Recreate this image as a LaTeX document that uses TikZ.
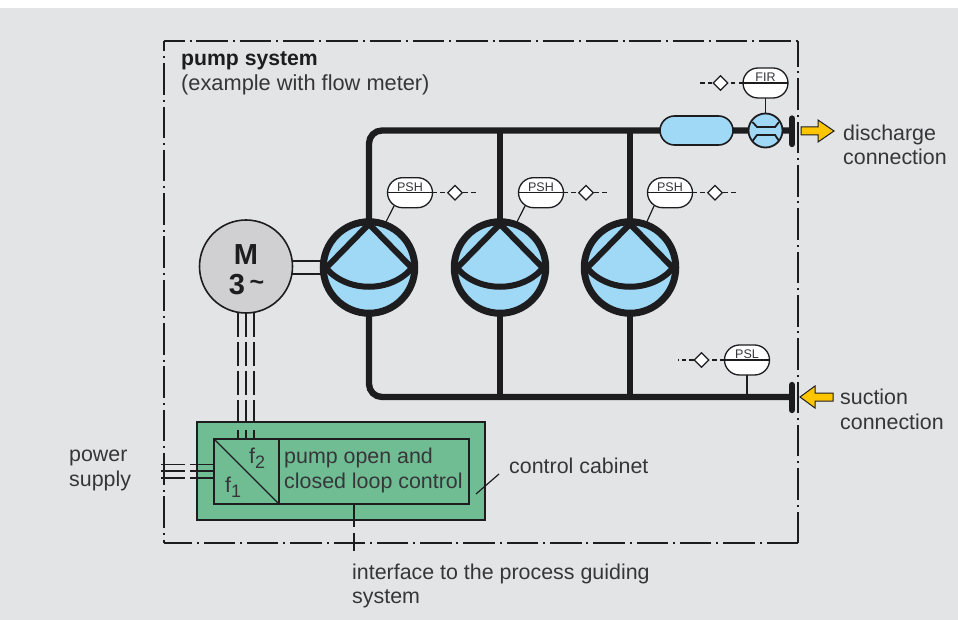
\documentclass[tikz,border=0pt]{standalone}
\usepackage{fontspec}
\setmainfont{Liberation Sans}
\usetikzlibrary{shapes.geometric,shapes.misc}
\definecolor{bggray}{HTML}{E3E4E6}
\definecolor{ink}{HTML}{1D1D20}
\definecolor{pumpblue}{HTML}{9FD9F6}
\definecolor{motorgray}{HTML}{D0D0D2}
\definecolor{cabgreen}{HTML}{70BD93}
\definecolor{arrowyellow}{HTML}{FFC600}
\definecolor{txt}{HTML}{36363A}
\tikzset{x=1pt,y=-1pt,
 pipe/.style={draw=ink,line width=6.3pt},
 pumpcircle/.style={circle,draw=ink,line width=7pt,fill=pumpblue,minimum size=91.5pt,inner sep=0pt,outer sep=0pt},
 pumpmark/.style={draw=ink,line width=6pt},
 thinline/.style={draw=ink,line width=1.2pt},
 sigdash/.style={draw=ink,line width=1.2pt,dash pattern=on 4.5pt off 3.2pt},
 sysborder/.style={draw=ink,line width=2pt,dash pattern=on 31.5pt off 5pt on 2pt off 4.8pt},
 instrument/.style={rounded rectangle,draw=ink,line width=1.3pt,fill=white,minimum width=45pt,minimum height=30pt,inner sep=0pt,outer sep=0pt},
 sigdiamond/.style={diamond,draw=ink,line width=1.3pt,fill=white,minimum size=15pt,inner sep=0pt},
 lab/.style={font=\fontsize{21.4}{24.5}\selectfont,text=txt,align=left,inner sep=0pt},
 sublab/.style={font=\fontsize{21.4}{24}\selectfont,text=txt,inner sep=0pt},
 taglab/.style={font=\fontsize{12.5}{12.5}\selectfont,text=txt,inner sep=0pt},
 yellowarrow/.style={draw=ink,line width=1pt,fill=arrowyellow},
 capbar/.style={draw=ink,line width=6.3pt,line cap=round}
}
\begin{document}
\begin{tikzpicture}
\useasboundingbox (0,0) rectangle (958,620);
\fill[white] (0,0) rectangle (958,620);
\fill[bggray] (0,8) rectangle (958,620);
% system border
\coordinate (bTL) at (164,41); \coordinate (bTR) at (798,41);
\coordinate (bBR) at (798,543); \coordinate (bBL) at (164,543);
\draw[sysborder,dash phase=11pt] (bTL) -- (bTR);
\draw[sysborder,dash phase=21pt] (bTL) -- (bBL);
\draw[sysborder] (bBR) -- (bBL);
\draw[sysborder] (bBR) -- (bTR);
% pipes
\coordinate (t1) at (369,130.5); \coordinate (t2) at (500,130.5); \coordinate (t3) at (630,130.5);
\coordinate (b1) at (369,397); \coordinate (b2) at (500,397); \coordinate (b3) at (630,397);
\coordinate (dis) at (790,130.5); \coordinate (suc) at (790,397);
\draw[pipe,rounded corners=13pt] (369,230) -- (t1) -- (dis);
\draw[pipe,rounded corners=13pt] (369,300) -- (b1) -- (suc);
\draw[pipe] (t2) -- (500,230); \draw[pipe] (t3) -- (630,230);
\draw[pipe] (500,300) -- (b2); \draw[pipe] (630,300) -- (b3);
% motor and shaft
\node[circle,draw=ink,line width=1.6pt,fill=motorgray,minimum size=93pt,inner sep=0pt,outer sep=0pt] (motor) at (246,266.5) {};
\draw[thinline] (292,261) -- (330,261);
\draw[thinline] (292,274) -- (330,274);
% pumps
\foreach \n/\cx in {p1/369,p2/500,p3/630}{
 \node[pumpcircle] (\n) at (\cx,267.5) {};
 \draw[pumpmark,line join=miter] (\cx-43,268) -- (\cx,224) -- (\cx+43,268);
 \draw[pumpmark] (\cx-43,268) .. controls (\cx-22,293) and (\cx+22,293) .. (\cx+43,268);
}
% motor text
\node[font=\bfseries\fontsize{29}{30}\selectfont,text=ink,inner sep=0pt] (mM) at (246,255) {M};
\node[font=\bfseries\fontsize{29}{30}\selectfont,text=ink,inner sep=0pt] (m3) at (237,285) {3};
\node[font=\bfseries\fontsize{25}{26}\selectfont,text=ink,inner sep=0pt] (mt) at (257,285) {\char"007E};
% instruments PSH
\foreach \n/\cx/\pp in {a/410/p1,b/541/p2,c/670/p3}{
 \node[instrument] (i\n) at (\cx,192.7) {};
 \draw[thinline] (i\n.west) -- (i\n.east);
 \node[taglab] at (\cx,187.3) {PSH};
 \draw[thinline] (\cx-16,206) -- (\pp.70);
 \draw[sigdash] (i\n.east) -- (\cx+66,192.7);
 \node[sigdiamond] at (\cx+45,192.7) {};
}
% tank, FIR, meter
\node[rounded rectangle,draw=ink,line width=1.6pt,fill=pumpblue,minimum width=73pt,minimum height=29pt,inner sep=0pt] (tank) at (696.5,130.5) {};
\node[instrument] (fir) at (765.5,83) {};
\draw[thinline] (fir.west) -- (fir.east);
\node[taglab] at (765.5,77.5) {FIR};
\coordinate (firend) at (697,83);
\draw[sigdash] (fir.west) -- (firend);
\node[sigdiamond] at (720.5,83) {};
\node[circle,draw=ink,line width=1.8pt,fill=pumpblue,minimum size=34pt,inner sep=0pt,outer sep=0pt] (meter) at (765.5,130.5) {};
\draw[thinline] (fir.south) -- (meter.north);
\draw[draw=ink,line width=1.8pt] (752.5,122) -- (757,127) -- (775,127) -- (779,122);
\draw[draw=ink,line width=1.8pt] (752.5,141) -- (757,135) -- (775,135) -- (779,141);
\draw[capbar] (792,118.5) -- (792,144);
\draw[yellowarrow] (801,127) -- (818,127) -- (818,120) -- (834,131) -- (818,142) -- (818,135) -- (801,135) -- cycle;
% PSL
\node[instrument] (psl) at (747,360) {};
\draw[thinline] (psl.west) -- (psl.east);
\node[taglab] at (747,354) {PSL};
\coordinate (pslj) at (747,397);
\draw[thinline] (psl.south) -- (pslj);
\coordinate (pslend) at (678,360);
\draw[sigdash] (psl.west) -- (pslend);
\node[sigdiamond] at (701.5,360) {};
\draw[capbar] (792,385) -- (792,410);
\draw[yellowarrow] (833,393) -- (815,393) -- (815,386) -- (800,397) -- (815,408) -- (815,401) -- (833,401) -- cycle;
% motor to cabinet
\node[rectangle,draw=ink,line width=1.8pt,fill=cabgreen,minimum width=288pt,minimum height=98pt,inner sep=0pt,outer sep=0pt] (cab) at (341,471) {};
\foreach \x in {238,246,254}{
 \draw[draw=ink,line width=1.1pt,dash pattern=on 24pt off 5pt] (\x,313) -- (\x,421);
 \draw[thinline] (\x,430) -- (\x,439);
}
% inner boxes
\node[rectangle,draw=ink,line width=1.2pt,minimum width=65pt,minimum height=65pt,inner sep=0pt,outer sep=0pt] (fc) at (246.5,471.5) {};
\node[rectangle,draw=ink,line width=1.2pt,minimum width=190pt,minimum height=65pt,inner sep=0pt,outer sep=0pt,anchor=west] (ctrl) at (279,471.5) {};
\draw[thinline] (fc.north west) -- (fc.south east);
\node[sublab,anchor=base west] (f2) at (249,463) {f\raisebox{-0.28em}{\fontsize{18}{18}\selectfont 2}};
\node[sublab,anchor=base west] (f1) at (225,492) {f\raisebox{-0.28em}{\fontsize{18}{18}\selectfont 1}};
\node[lab,anchor=west] (ctrltxt) at (284,470.5) {pump open and\\closed loop control};
% power
\foreach \y in {464.5,471,478}{
 \draw[thinline] (161,\y) -- (185,\y);
 \draw[thinline] (190,\y) -- (214,\y);
}
\node[lab,anchor=west] (pwr) at (69,470.5) {power\\supply};
% interface
\coordinate (ifend) at (354,551);
\coordinate (ifa) at (354,527);
\coordinate (ifb) at (354,533);
\draw[thinline] (ctrl.south -| ifa) -- (ifa);
\draw[thinline] (ifb) -- (ifend);
\node[lab,anchor=west] (iftxt) at (352,586) {interface to the process guiding\\system};
% labels
\node[lab,anchor=west] (cabtxt) at (509,466) {control cabinet};
\coordinate (cabl) at (499,474);
\draw[thinline] (476,494) -- (cabl);
\node[lab,anchor=west] (distxt) at (843,145) {discharge\\connection};
\node[lab,anchor=west] (suctxt) at (840,409.5) {suction\\connection};
\node[inner sep=0pt,anchor=base west,font=\bfseries\fontsize{21.2}{24}\selectfont,text=ink] (title) at (181,65.5) {pump system};
\node[inner sep=0pt,anchor=base west,font=\fontsize{21.8}{24}\selectfont,text=txt] (subtitle) at (181,90.5) {(example with flow meter)};
\end{tikzpicture}
\end{document}
